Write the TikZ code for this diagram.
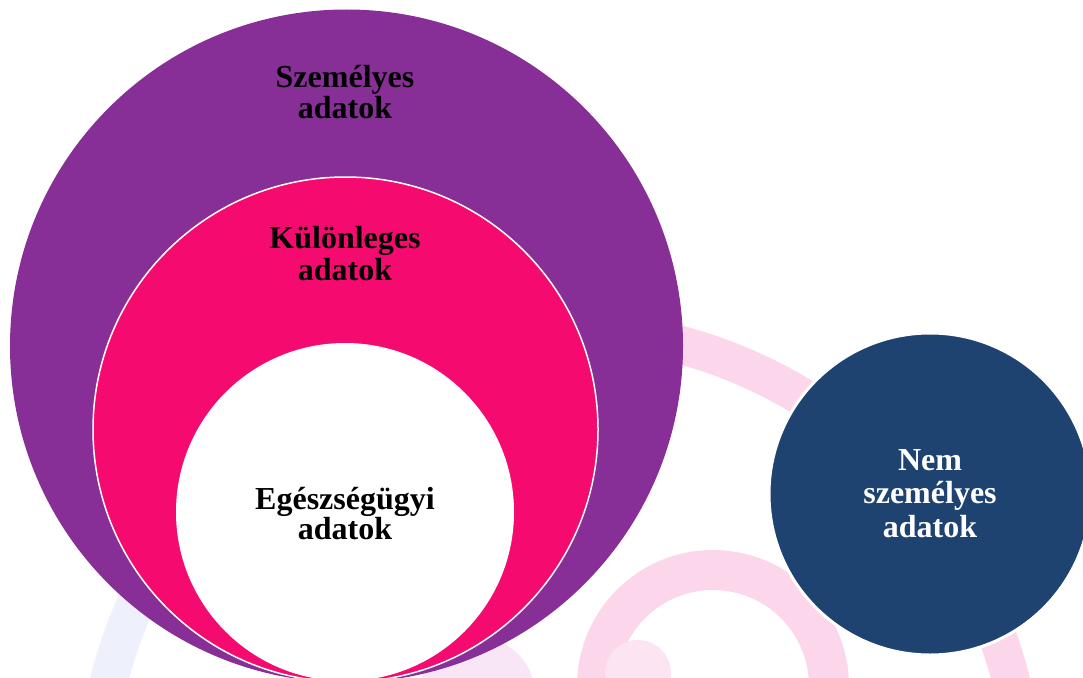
\documentclass[tikz,border=0pt]{standalone}
\usepackage{fontspec}
\setmainfont{Liberation Serif}
\definecolor{cpurple}{HTML}{872F96}
\definecolor{cpink}{HTML}{F50A70}
\definecolor{cblue}{HTML}{1F4370}
\definecolor{wpink}{HTML}{FCD6EA}
\definecolor{wpinklight}{HTML}{FCE4F3}
\definecolor{wlav}{HTML}{EEF0FC}
\definecolor{wlavpink}{HTML}{F8E6F7}
\begin{document}
\begin{tikzpicture}[x=1pt,y=-1pt,
  disk/.style={circle,inner sep=0pt,outer sep=0pt},
  lbl/.style={anchor=base,inner sep=0pt,font=\fontsize{32}{32}\selectfont\bfseries}]
\useasboundingbox (0,0) rectangle (1083,677);
\clip (0,0) rectangle (1083,677);
\fill[white] (0,0) rectangle (1083,677);
% faint watermark rings
\coordinate (bigc) at (560,794);
\draw[wpink,line width=38pt] (bigc) ++(245:465) arc[start angle=245,end angle=360,radius=465];
\draw[wlav,line width=38pt] (bigc) ++(170:465) arc[start angle=170,end angle=245,radius=465];
\fill[wlavpink] (477,695) circle (58);
\coordinate (smallc) at (713,686);
\draw[wpink,line width=40pt] (smallc) circle (116);
\fill[wpinklight] (638,673) circle (33);
% main circles
\node[disk,fill=cpurple,minimum size=673pt] (pers) at (346.5,346) {};
\node[disk,fill=cpink,draw=white,line width=1.5pt,minimum size=505pt] (kul) at (345.5,429.5) {};
\node[disk,fill=white,minimum size=338pt] (egs) at (345,512) {};
\node[disk,fill=cblue,draw=white,line width=3pt,minimum size=322pt] (nem) at (930,494) {};
% labels
\node[lbl] (pers1) at (345,87) {Személyes};
\node[lbl] (pers2) at (345,118) {adatok};
\node[lbl] (kul1) at (345,248) {Különleges};
\node[lbl] (kul2) at (345,280) {adatok};
\node[lbl] (egs1) at (345,509) {Egészségügyi};
\node[lbl] (egs2) at (345,539) {adatok};
\node[lbl,text=white] (nem1) at (930,470) {Nem};
\node[lbl,text=white] (nem2) at (930,503) {személyes};
\node[lbl,text=white] (nem3) at (930,537) {adatok};
\end{tikzpicture}
\end{document}
